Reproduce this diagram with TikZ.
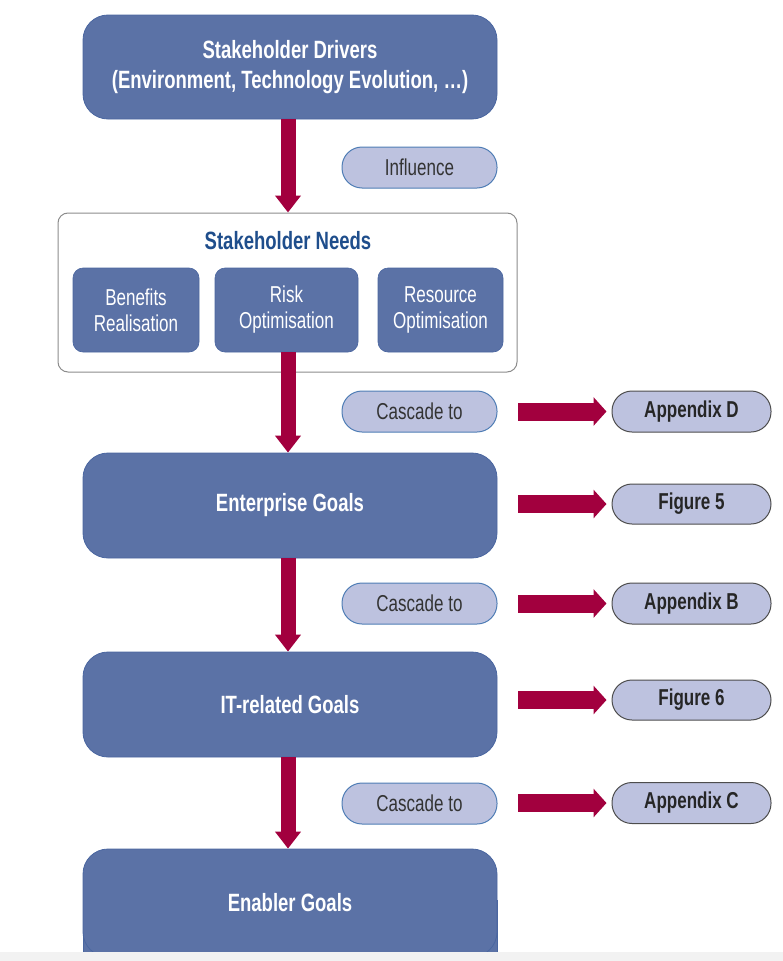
\documentclass[tikz,border=0pt]{standalone}
\usepackage{fontspec}
\setmainfont{Liberation Sans}[FakeStretch=0.74]
\usetikzlibrary{arrows.meta}
\definecolor{goalblue}{HTML}{5B72A6}
\definecolor{goaledge}{HTML}{4A66A0}
\definecolor{pillfill}{HTML}{BDC2DF}
\definecolor{pilledge}{HTML}{4F7DB5}
\definecolor{refedge}{HTML}{4D4D4D}
\definecolor{arrowred}{HTML}{A2003E}
\definecolor{needsblue}{HTML}{1F4E8C}
\definecolor{pilltext}{HTML}{333333}
\tikzset{
  goal/.style={draw=goaledge, line width=0.8pt, fill=goalblue, rounded corners=25pt,
    minimum width=414pt, inner sep=0pt, text=white, align=center,
    font=\fontsize{25}{30}\selectfont\bfseries},
  subgoal/.style={draw=goaledge, line width=0.6pt, fill=goalblue, rounded corners=10pt,
    minimum height=84pt, inner sep=0pt, text=white, align=center,
    font=\fontsize{23}{26}\selectfont},
  pill/.style={draw=pilledge, line width=1pt, fill=pillfill, rounded corners=20pt,
    minimum height=41pt, minimum width=155pt, inner sep=0pt, text=pilltext,
    font=\fontsize{23}{26}\selectfont},
  refpill/.style={pill, draw=refedge, minimum width=159pt, text=black!85,
    font=\fontsize{23}{26}\selectfont\bfseries},
  downarrow/.style={arrowred, line width=15pt,
    -{Triangle[width=25pt,length=17pt]}},
  rightarrow/.style={arrowred, line width=18pt,
    -{Triangle[width=28pt,length=13pt]}, shorten >=5pt},
}
\begin{document}
\begin{tikzpicture}[x=1pt, y=-1pt]
\useasboundingbox (0,0) rectangle (783,961);

% main chain of goals
\node[goal, minimum height=104pt] (drivers) at (290,67)
  {Stakeholder Drivers\\(Environment, Technology Evolution, \dots)};

\node[draw=black!45, line width=1pt, fill=white, rounded corners=10pt,
  minimum width=459pt, minimum height=159pt] (needs) at (287.5,292.5) {};
\node[text=needsblue, font=\fontsize{25}{30}\selectfont\bfseries] (needstitle) at (288,241)
  {Stakeholder Needs};
\node[subgoal, minimum width=126pt] (benefits) at (136,310) {Benefits\\Realisation};
\node[subgoal, minimum width=143pt] (risk) at (286.5,310) {Risk\\Optimisation};
\node[subgoal, minimum width=125pt] (resource) at (440.5,310) {Resource\\Optimisation};

\node[goal, minimum height=105pt] (enterprise) at (290,505.5) {Enterprise Goals};
\node[goal, minimum height=105pt] (itgoals) at (290,704.5) {IT-related Goals};

% the last goal runs off the lower edge: square lower corners behind it
\fill[goalblue, draw=goaledge, line width=0.8pt] (83,900) rectangle (497,965);
\node[goal, minimum height=108pt] (enabler) at (290,903) {Enabler Goals};
\fill[black!5] (0,952) rectangle (783,961);

% side labels
\node[pill] (influence) at (419.5,167.5) {Influence};
\node[pill] (cascade1) at (419.5,411.5) {Cascade to};
\node[pill] (cascade2) at (419.5,603.5) {Cascade to};
\node[pill] (cascade3) at (419.5,803.5) {Cascade to};

\node[refpill] (appD) at (691.5,411.5) {Appendix D};
\node[refpill, minimum height=40pt] (fig5) at (691.5,504) {Figure 5};
\node[refpill] (appB) at (691.5,603.5) {Appendix B};
\node[refpill, minimum height=40pt] (fig6) at (691.5,700) {Figure 6};
\node[refpill] (appC) at (691.5,803) {Appendix C};

% downward cascade
\draw[downarrow] (drivers.south -| needstitle) -- (needs.north -| needstitle);
\draw[downarrow] (risk.south -| needstitle) -- (enterprise.north -| needstitle);
\draw[downarrow] (enterprise.south -| needstitle) -- (itgoals.north -| needstitle);
\draw[downarrow] (itgoals.south -| needstitle) -- (enabler.north -| needstitle);

% references to the right
\coordinate (rD) at (518,411.5);
\coordinate (r5) at (518,504);
\coordinate (rB) at (518,603.5);
\coordinate (r6) at (518,700);
\coordinate (rC) at (518,803);
\draw[rightarrow] (rD) -- (appD.west);
\draw[rightarrow] (r5) -- (fig5.west);
\draw[rightarrow] (rB) -- (appB.west);
\draw[rightarrow] (r6) -- (fig6.west);
\draw[rightarrow] (rC) -- (appC.west);
\end{tikzpicture}
\end{document}
